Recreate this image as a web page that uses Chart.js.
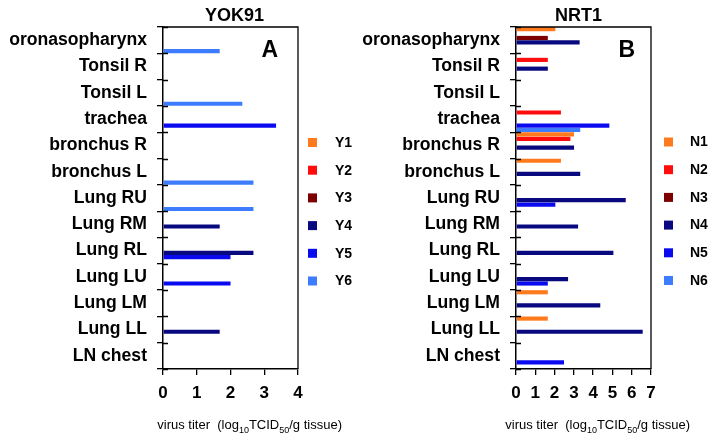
<!DOCTYPE html>
<html>
<head>
<meta charset="utf-8">
<script src="https://cdn.jsdelivr.net/npm/chart.js@4.4.0/dist/chart.umd.min.js"></script>
<style>
  html, body { margin: 0; padding: 0; background: #fff; }
  #wrap { position: relative; width: 717px; height: 442px; }
  canvas { position: absolute; top: 0; }
  #chartA { left: 0; }
  #chartB { left: 358px; }
</style>
</head>
<body>
<div id="wrap">
  <canvas id="chartA" width="358" height="442"></canvas>
  <canvas id="chartB" width="359" height="442"></canvas>
</div>
<script>
const tissues = ["oronasopharynx", "Tonsil R", "Tonsil L", "trachea", "bronchus R", "bronchus L",
  "Lung RU", "Lung RM", "Lung RL", "Lung LU", "Lung LM", "Lung LL", "LN chest"];

const seriesColors = ["#ff7a1c", "#ff0c0c", "#7d0000", "#09097f", "#0a0af0", "#3d7cff"];

// YOK91 (panel A)
const yokNames = ["Y1", "Y2", "Y3", "Y4", "Y5", "Y6"];
const yokY1 = [null, null, null, null, null, null, null, null, null, null, null, null, null];
const yokY2 = [null, null, null, null, null, null, null, null, null, null, null, null, null];
const yokY3 = [null, null, null, null, null, null, null, null, null, null, null, null, null];
const yokY4 = [null, null, null, null, null, null, null, 1.68, 2.68, null, null, 1.68, null];
const yokY5 = [null, null, null, 3.35, null, null, null, null, 2.0, 2.0, null, null, null];
const yokY6 = [1.68, null, 2.35, null, null, 2.68, 2.68, null, null, null, null, null, null];
const yokTicks = [0, 1, 2, 3, 4];

// NRT1 (panel B)
const nrtNames = ["N1", "N2", "N3", "N4", "N5", "N6"];
const nrtN1 = [2.04, null, null, null, 3.01, 2.33, null, null, null, null, 1.65, 1.65, null];
const nrtN2 = [null, 1.65, null, 2.33, 2.82, null, null, null, null, null, null, null, null];
const nrtN3 = [1.65, null, null, null, null, null, null, null, null, null, null, null, null];
const nrtN4 = [3.3, 1.65, null, null, 3.01, 3.33, 5.69, 3.22, 5.05, 2.7, 4.37, 6.57, null];
const nrtN5 = [null, null, null, 4.84, null, null, 2.04, null, null, 1.65, null, null, 2.49];
const nrtN6 = [null, null, null, 3.33, null, null, null, null, null, null, null, null, null];
const nrtTicks = [0, 1, 2, 3, 4, 5, 6, 7];

const FONT = '"Liberation Sans", Arial, sans-serif';

function makeDatasets(names, rows) {
  return rows.map((vals, i) => ({
    label: names[i],
    data: vals,
    backgroundColor: seriesColors[i],
    borderWidth: 0,
    barPercentage: 0.95,
    categoryPercentage: 1.0
  }));
}

// frame, titles, panel letter, legend and axis title
const decor = {
  id: 'decor',
  afterDraw(chart, args, o) {
    const { ctx, chartArea: a } = chart;
    const ys = chart.scales.y;
    ctx.save();
    ctx.strokeStyle = '#000';
    ctx.lineWidth = 1.3;
    ctx.beginPath();
    ctx.moveTo(a.left, a.top);
    ctx.lineTo(a.right, a.top);
    ctx.lineTo(a.right, a.bottom);
    ctx.stroke();

    // inner part of the y ticks
    const n = chart.data.labels.length;
    const step = (ys.bottom - ys.top) / n;
    ctx.beginPath();
    for (let i = 0; i <= n; i++) {
      const y = Math.round(ys.top + i * step) + 0.5;
      ctx.moveTo(a.left, y);
      ctx.lineTo(a.left + 5, y);
    }
    ctx.stroke();

    ctx.fillStyle = '#000';
    ctx.textAlign = 'center';
    ctx.textBaseline = 'alphabetic';
    ctx.font = 'bold 18px ' + FONT;
    ctx.fillText(o.title, (a.left + a.right) / 2 + o.titleShift, 20.5);

    ctx.textAlign = 'right';
    ctx.font = 'bold 23px ' + FONT;
    ctx.fillText(o.letter, a.right - o.letterGap, 57);

    // legend
    chart.data.datasets.forEach((ds, i) => {
      const y = o.legendTop + i * o.legendStep;
      ctx.fillStyle = ds.backgroundColor;
      ctx.fillRect(a.right + o.boxGap, y - 4.5, 9, 9);
      ctx.fillStyle = '#000';
      ctx.textAlign = 'left';
      ctx.textBaseline = 'middle';
      ctx.font = 'bold 14px ' + FONT;
      ctx.fillText(ds.label, a.right + o.labelGap, y + 0.5);
    });

    // x axis title with subscripts
    const parts = [
      ['virus titer  (log', 13, 0], ['10', 9, 4], ['TCID', 13, 0], ['50', 9, 4], ['/g tissue)', 13, 0]
    ];
    ctx.textBaseline = 'alphabetic';
    ctx.textAlign = 'left';
    let w = 0;
    parts.forEach(p => { ctx.font = p[1] + 'px ' + FONT; w += ctx.measureText(p[0]).width; });
    let x = a.right + o.xTitleEnd - w;
    parts.forEach(p => {
      ctx.font = p[1] + 'px ' + FONT;
      ctx.fillText(p[0], x, 429 + p[2]);
      x += ctx.measureText(p[0]).width;
    });
    ctx.restore();
  }
};

function makeChart(id, datasets, ticks, rightPad, deco) {
  return new Chart(document.getElementById(id), {
    type: 'bar',
    data: { labels: tissues, datasets: datasets },
    options: {
      indexAxis: 'y',
      responsive: false,
      animation: false,
      layout: { padding: { left: 0, right: rightPad, top: 27, bottom: 0 } },
      scales: {
        x: {
          min: ticks[0],
          max: ticks[ticks.length - 1],
          ticks: { stepSize: 1, color: '#000', font: { family: FONT, size: 17, weight: 'bold' }, padding: 8 },
          grid: { drawOnChartArea: false, tickLength: 6, color: '#000', lineWidth: 1.3 },
          border: { color: '#000', width: 1.5 },
          afterFit: s => { s.height = 73; }
        },
        y: {
          ticks: { color: '#000', font: { family: FONT, size: 17.6, weight: 'bold' }, padding: 10, autoSkip: false },
          grid: { drawOnChartArea: false, tickLength: 6, color: '#000', lineWidth: 1.3, offset: true },
          border: { color: '#000', width: 1.5 },
          afterFit: s => { s.width = deco.axisLeft; }
        }
      },
      plugins: {
        legend: { display: false },
        tooltip: { enabled: false },
        decor: deco
      }
    },
    plugins: [decor]
  });
}

makeChart('chartA', makeDatasets(yokNames, [yokY1, yokY2, yokY3, yokY4, yokY5, yokY6]), yokTicks, 60, {
  axisLeft: 163, title: 'YOK91', titleShift: 4, letter: 'A', letterGap: 20,
  legendTop: 142.5, legendStep: 27.7, boxGap: 10, labelGap: 37, xTitleEnd: 44
});

makeChart('chartB', makeDatasets(nrtNames, [nrtN1, nrtN2, nrtN3, nrtN4, nrtN5, nrtN6]), nrtTicks, 66, {
  axisLeft: 158, title: 'NRT1', titleShift: -5, letter: 'B', letterGap: 16,
  legendTop: 142, legendStep: 27.7, boxGap: 13, labelGap: 39, xTitleEnd: 39
});
</script>
</body>
</html>
